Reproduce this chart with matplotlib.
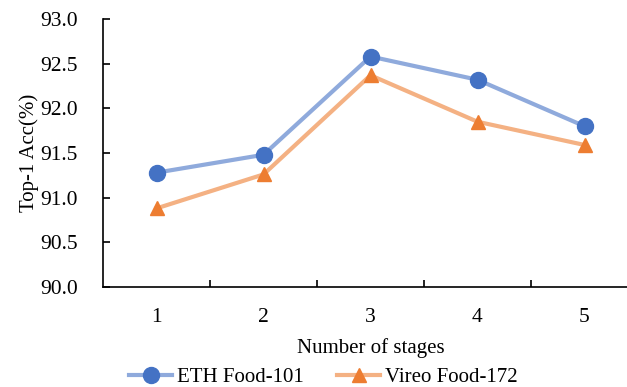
import matplotlib.pyplot as plt

plt.rcParams['font.family'] = ['Liberation Serif', 'DejaVu Serif']

stages = [1, 2, 3, 4, 5]
eth_food101 = [91.28, 91.48, 92.58, 92.32, 91.80]
vireo_food172 = [90.88, 91.26, 92.37, 91.85, 91.59]

fig = plt.figure(figsize=(6.27, 3.87), dpi=100)
ax = fig.add_axes([103 / 627, 100 / 387, 535 / 627, 268 / 387])

ax.plot(stages, eth_food101, color='#8FAADC', lw=3.0, marker='o', ms=11.5,
        mfc='#4472C4', mec='#4472C4', label='ETH Food-101')
ax.plot(stages, vireo_food172, color='#F4B183', lw=3.0, marker='^', ms=10.5,
        mfc='#ED7D31', mec='#ED7D31', label='Vireo Food-172')

ax.set_xlim(0.5, 5.5)
ax.set_ylim(90.0, 93.0)
ax.set_yticks([90.0, 90.5, 91.0, 91.5, 92.0, 92.5, 93.0])
ax.set_yticklabels(['%.1f' % v for v in ax.get_yticks()])

# category ticks sit between the stages, labels centred on them
ax.set_xticks([1.5, 2.5, 3.5, 4.5, 5.5])
ax.set_xticklabels([])
ax.set_xticks(stages, minor=True)
ax.set_xticklabels([str(s) for s in stages], minor=True)
ax.tick_params(axis='x', which='major', direction='in', length=5, width=1.2)
ax.tick_params(axis='x', which='minor', length=0, pad=15, labelsize=15.5)
ax.tick_params(axis='y', direction='in', length=5, width=1.2, pad=18,
               labelsize=15.5)

ax.spines['top'].set_visible(False)
ax.spines['right'].set_visible(False)
ax.spines['left'].set_linewidth(1.2)
ax.spines['bottom'].set_linewidth(1.2)

ax.set_xlabel('Number of stages', fontsize=15, labelpad=8)
ax.set_ylabel('Top-1 Acc(%)', fontsize=15, labelpad=1)

fig.legend(loc='lower center', bbox_to_anchor=(323 / 627, -0.048), ncol=2,
           frameon=False, fontsize=15, handlelength=2.1, columnspacing=1.6,
           handletextpad=0.2)

fig.savefig('out.png', dpi=100)
